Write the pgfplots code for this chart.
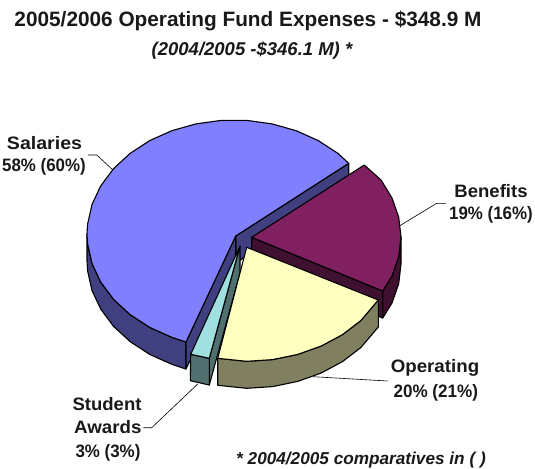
\documentclass[border=0pt]{standalone}
\usepackage{pgfplots}
\pgfplotsset{compat=1.18}
\usepackage{fontspec}
\setmainfont{Liberation Sans}
\definecolor{salT}{HTML}{8080FF}\definecolor{salW}{HTML}{404080}
\definecolor{benT}{HTML}{802060}\definecolor{benW}{HTML}{401030}
\definecolor{opeT}{HTML}{FFFFC0}\definecolor{opeW}{HTML}{808060}
\definecolor{stuT}{HTML}{A0E0E0}\definecolor{stuW}{HTML}{507070}
\pgfplotsset{
  slice/.style={draw=black,line width=1.1pt,line join=round,fill=#1},
  leader/.style={draw=black,line width=0.6pt},
}
\tikzset{lab/.style={font=\bfseries\fontsize{18}{20}\selectfont,inner sep=0pt,text=black!90}}
\newcommand\sx[2]{\scalebox{#1}[1]{#2}}
\begin{document}
\begin{tikzpicture}
\begin{axis}[
  scale only axis,width=535pt,height=468pt,
  xmin=0,xmax=535,ymin=0,ymax=468,y dir=reverse,
  axis line style={draw=none},ticks=none,clip=false]
% leaders
\addplot[leader] coordinates {(88,155)(96.7,155)(113,170)};
\addplot[leader] coordinates {(399.3,226)(436.7,203.3)(446,203.3)};
\addplot[leader] coordinates {(197.7,384)(151.7,427.7)(143.3,427.7)};
\addplot[leader] coordinates {(313.3,376.7)(387.7,381)};
% Salaries walls
\addplot[slice=salW] coordinates {(87,234)(87.6,243.9)(92,263.5)(100.8,282.2)(113.6,299.4)(130.1,314.6)(149.7,327.4)(171.8,337.3)(186,342)(186,369)(171.8,364.3)(149.7,354.4)(130.1,341.6)(113.6,326.4)(100.8,309.2)(92,290.5)(87.6,270.9)(87,261)} --cycle;
\addplot[slice=salW] coordinates {(235.7,236)(348.7,163.3)(348.7,190.3)(235.7,263)} --cycle;
\addplot[slice=salW] coordinates {(235.7,236)(186,342)(186,369)(235.7,263)} --cycle;
% Salaries top
\addplot[slice=salT] coordinates {(235.7,236)(348.7,163.3)(337.9,153.4)(318.3,140.6)(296.2,130.7)(272.1,123.9)(246.8,120.4)(221.2,120.4)(195.9,123.9)(171.8,130.7)(149.7,140.6)(130.1,153.4)(113.6,168.6)(100.8,185.8)(92,204.5)(87.6,224.1)(87,234)(87.6,243.9)(92,263.5)(100.8,282.2)(113.6,299.4)(130.1,314.6)(149.7,327.4)(171.8,337.3)(186,342)} --cycle;
% Benefits
\addplot[slice=benW] coordinates {(251.7,237.3)(382.7,291)(382.7,318)(251.7,264.3)} --cycle;
\addplot[slice=benW] coordinates {(401,237)(398.7,256.8)(392,276)(382.7,291)(382.7,318)(392,303)(398.7,283.8)(401,264)} --cycle;
\addplot[slice=benT] coordinates {(251.7,237.3)(364.3,165)(381,180)(392,198)(398.7,217.2)(401,237)(398.7,256.8)(392,276)(382.7,291)} --cycle;
% Student awards
\addplot[slice=stuW] coordinates {(240,246)(209.3,358.3)(209.3,385)(240,273)} --cycle;
\addplot[slice=stuW] coordinates {(190.7,354.3)(209.3,358.3)(209.3,385)(190.3,380.7)} --cycle;
\addplot[slice=stuT] coordinates {(240,246)(190.7,354.3)(209.3,358.3)} --cycle;
% Operating
\addplot[slice=opeW] coordinates {(378.3,300)(360.8,320.6)(342.5,334.6)(321.2,346)(297.7,354.4)(272.6,359.6)(246.7,361.3)(217.7,358.3)(217.7,385.3)(246.7,388.3)(272.6,386.6)(297.7,381.4)(321.2,373)(342.5,361.6)(360.8,347.6)(378.3,327)} --cycle;
\addplot[slice=opeT] coordinates {(246.7,247.3)(378.3,300)(360.8,320.6)(342.5,334.6)(321.2,346)(297.7,354.4)(272.6,359.6)(246.7,361.3)(217.7,358.3)} --cycle;
% text
\node[font=\bfseries\fontsize{20.8}{22}\selectfont,inner sep=0pt,text=black!90] at (axis cs:248,21) {2005/2006 Operating Fund Expenses - \$348.9 M};
\node[font=\bfseries\itshape\fontsize{18.5}{20}\selectfont,inner sep=0pt,text=black!90] at (axis cs:252,50.5) {(2004/2005 -\$346.1 M) *};
\node[lab] at (axis cs:44.5,143) {\sx{1.087}{Salaries}};
\node[lab] at (axis cs:44,167) {\sx{0.94}{58\% (60\%)}};
\node[lab] at (axis cs:491,191) {\sx{1.03}{Benefits}};
\node[lab] at (axis cs:491,215) {\sx{0.94}{19\% (16\%)}};
\node[lab] at (axis cs:107,404) {\sx{1.03}{Student}};
\node[lab] at (axis cs:107.8,427) {\sx{1.04}{Awards}};
\node[lab] at (axis cs:108,452.7) {\sx{0.94}{3\% (3\%)}};
\node[lab] at (axis cs:435,368) {\sx{1.04}{Operating}};
\node[lab] at (axis cs:435.8,392.7) {\sx{0.95}{20\% (21\%)}};
\node[font=\bfseries\itshape\fontsize{17.2}{20}\selectfont,inner sep=0pt,text=black!90] at (axis cs:361,460) {* 2004/2005 comparatives in ( )};
\end{axis}
\end{tikzpicture}
\end{document}
